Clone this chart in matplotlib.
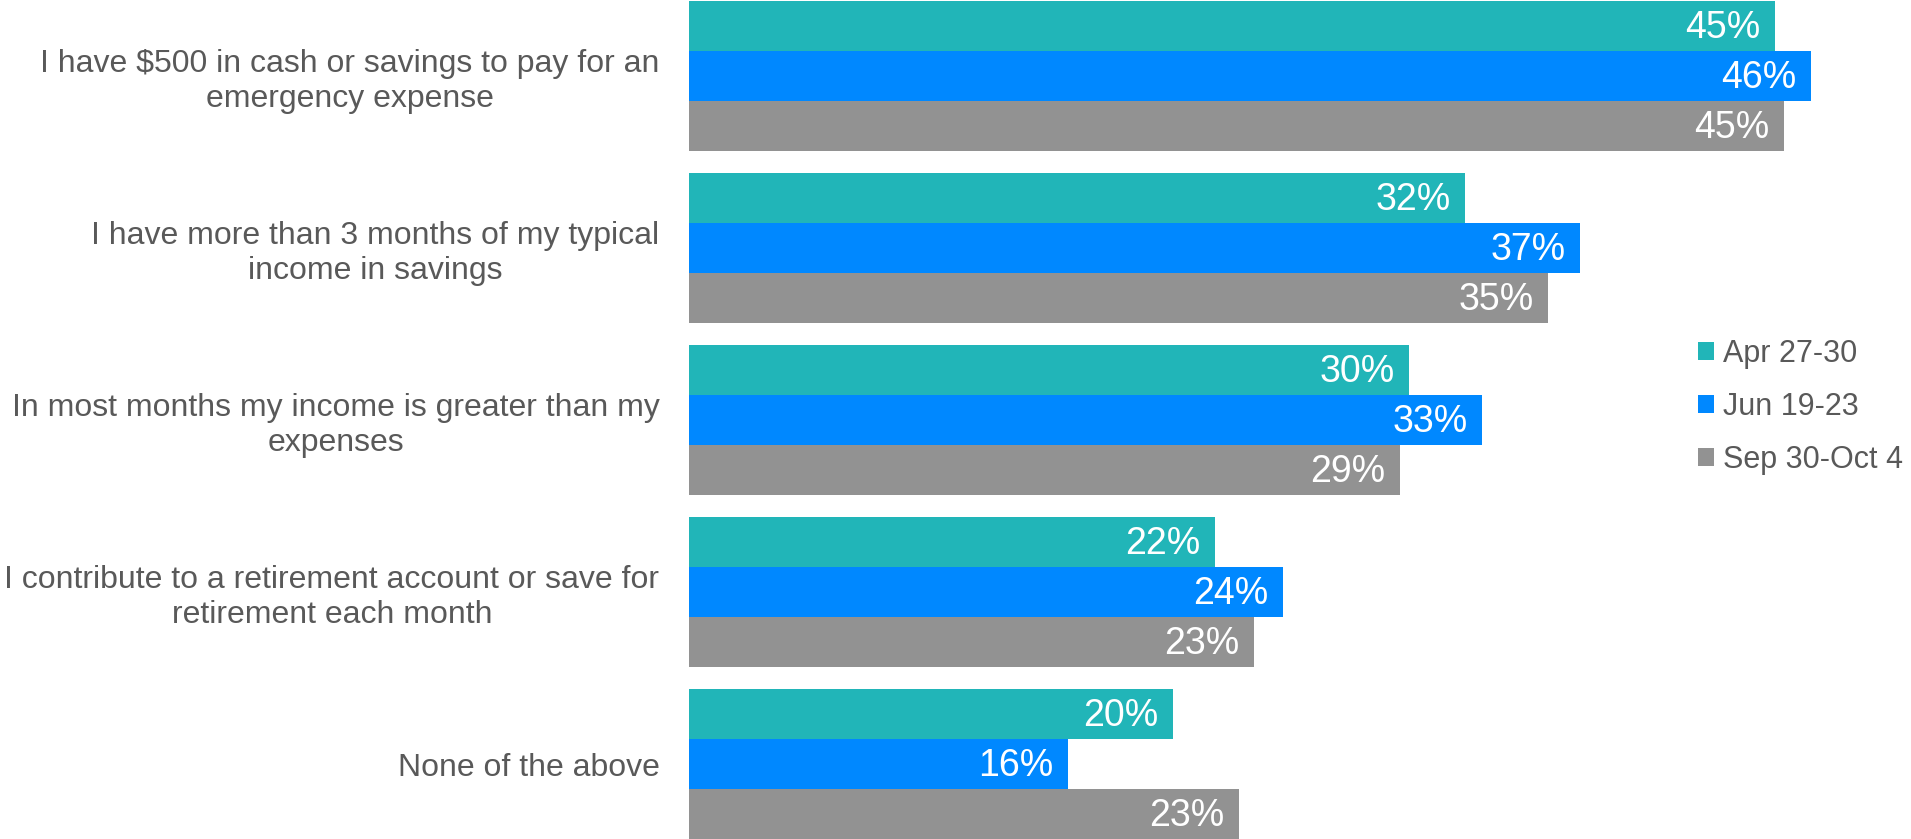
import matplotlib
matplotlib.use("Agg")
import matplotlib.pyplot as plt
from matplotlib.patches import Patch
import numpy as np

plt.rcParams['font.family'] = ['Liberation Sans', 'DejaVu Sans']

categories = [
    "I have $500 in cash or savings to pay for an\nemergency expense",
    "I have more than 3 months of my typical\nincome in savings",
    "In most months my income is greater than my\nexpenses",
    "I contribute to a retirement account or save for\nretirement each month",
    "None of the above",
]
series_names = ["Apr 27-30", "Jun 19-23", "Sep 30-Oct 4"]
apr = [44.6, 31.9, 29.6, 21.6, 19.9]
jun = [46.1, 36.6, 32.6, 24.4, 15.6]
sep = [45.0, 35.3, 29.2, 23.2, 22.6]
colors = ["#21B5B8", "#0088FF", "#929292"]
text_gray = "#595959"

fig = plt.figure(figsize=(19.11, 8.39), dpi=100)
ax = fig.add_axes([688.6 / 1911, 0.0, 1 - 688.6 / 1911, 838 / 839])

pitch = 3.44
centers = np.arange(len(categories)) * pitch
offsets = [-1, 0, 1]
for vals, off, col in zip([apr, jun, sep], offsets, colors):
    ys = centers + off
    ax.barh(ys, vals, height=1.0, color=col, edgecolor='none')
    for y, v in zip(ys, vals):
        ax.text(v - 0.6, y + 0.04, f"{v:.0f}%", ha='right', va='center',
                color='white', fontsize=27)

ax.set_ylim(centers[-1] + 1.5, -1.5)
ax.set_xlim(0, 50.2)
ax.set_yticks(centers)
ax.set_yticklabels(categories, fontsize=23, color=text_gray, multialignment='center')
ax.tick_params(axis='y', length=0, pad=21)
ax.set_xticks([])
for s in ax.spines.values():
    s.set_visible(False)

handles = [Patch(facecolor=c, edgecolor='none') for c in colors]
fig.legend(handles, series_names, loc='center left',
           bbox_to_anchor=(1698 / 1911, 1 - 407 / 839), frameon=False,
           fontsize=22, labelcolor=text_gray, handlelength=0.52, handleheight=0.52,
           handletextpad=0.3, labelspacing=0.76, borderaxespad=0, borderpad=0)

fig.savefig("out.png", dpi=100)
